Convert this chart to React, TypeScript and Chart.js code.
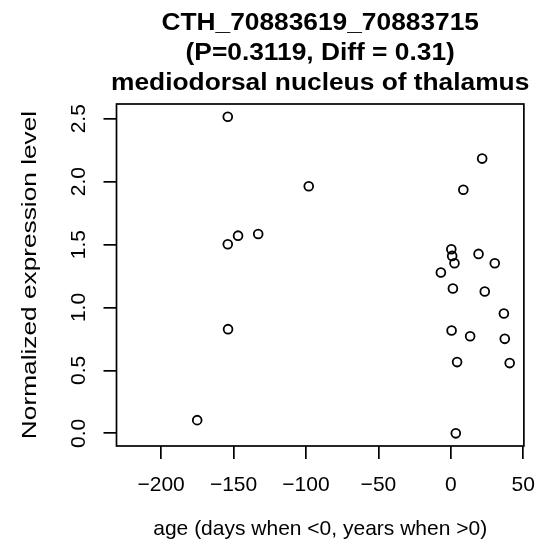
import React, { useEffect, useRef } from "react";
import { Chart, registerables } from "chart.js";

Chart.register(...registerables);

const titleLines = [
  "CTH_70883619_70883715",
  "(P=0.3119, Diff = 0.31)",
  "mediodorsal nucleus of thalamus",
];
const xLabel = "age (days when <0, years when >0)";
const yLabel = "Normalized expression level";

const ages = [
  -175.1, -154, -153.8, -154, -146.9, -133, -98.1, -6.9, 0.3, 0.5, 0.9, 1.4,
  2.5, 3.4, 4.3, 8.6, 13.3, 19.1, 21.6, 23.4, 30.3, 36.6, 37.2, 40.6,
];
const levels = [
  0.105, 2.516, 0.828, 1.502, 1.571, 1.584, 1.963, 1.278, 1.463, 0.817, 1.41,
  1.151, 1.352, 0.0, 0.566, 1.936, 0.772, 1.426, 2.183, 1.127, 1.352, 0.952,
  0.751, 0.558,
];
const xTicks = [-200, -150, -100, -50, 0, 50];
const yTicks = [0, 0.5, 1.0, 1.5, 2.0, 2.5];
const xRange = [-230.8, 50.4];
const yRange = [-0.1006, 2.617];

const FONT = "'Liberation Sans', Arial, Helvetica, sans-serif";

const fmt = (v: number, digits: number) =>
  v.toFixed(digits).replace("-", "\u2212");

const decorPlugin = {
  id: "rDecor",
  afterDraw(chart: any) {
    const { ctx, chartArea } = chart;
    ctx.save();
    // box around plot region
    ctx.strokeStyle = "#000";
    ctx.lineWidth = 1.7;
    ctx.strokeRect(
      chartArea.left,
      chartArea.top,
      chartArea.right - chartArea.left,
      chartArea.bottom - chartArea.top
    );
    ctx.fillStyle = "#000";
    const cx = (chartArea.left + chartArea.right) / 2;
    const cy = (chartArea.top + chartArea.bottom) / 2;

    // main title (3 lines)
    ctx.font = `bold 23.5px ${FONT}`;
    ctx.textAlign = "center";
    ctx.textBaseline = "alphabetic";
    const baselines = [30, 60, 90];
    titleLines.forEach((t, i) => {
      ctx.save();
      ctx.translate(cx, baselines[i]);
      ctx.scale(1.12, 1);
      ctx.fillText(t, 0, 0);
      ctx.restore();
    });

    // y axis label
    ctx.save();
    ctx.font = `21px ${FONT}`;
    ctx.textAlign = "center";
    ctx.textBaseline = "middle";
    ctx.translate(30, cy);
    ctx.rotate(-Math.PI / 2);
    ctx.scale(1.25, 1);
    ctx.fillText(yLabel, 0, 0);
    ctx.restore();

    ctx.restore();
  },
};

export default function App() {
  const ref = useRef<HTMLCanvasElement | null>(null);
  useEffect(() => {
    if (!ref.current) return;
    const chart = new Chart(ref.current, {
      type: "scatter",
      data: {
        datasets: [
          {
            data: ages.map((a, i) => ({ x: a, y: levels[i] })),
            pointStyle: "circle",
            pointRadius: 4.4,
            pointBorderWidth: 1.8,
            pointBorderColor: "#000",
            pointBackgroundColor: "rgba(0,0,0,0)",
          },
        ],
      },
      options: {
        animation: false,
        responsive: false,
        devicePixelRatio: 1,
        layout: { padding: { top: 104, right: 14.5, bottom: 0, left: 0 } },
        plugins: {
          legend: { display: false },
          tooltip: { enabled: false },
        },
        scales: {
          x: {
            type: "linear",
            min: xRange[0],
            max: xRange[1],
            afterBuildTicks: (s: any) => {
              s.ticks = xTicks.map((v) => ({ value: v }));
            },
            afterFit: (s: any) => {
              s.height = 107;
            },
            border: { display: false },
            grid: {
              display: true,
              drawOnChartArea: false,
              drawTicks: true,
              tickLength: 13,
              color: "#000",
              lineWidth: 1.7,
            },
            ticks: {
              color: "#000",
              font: { family: FONT, size: 21 },
              padding: 14,
              maxRotation: 0,
              minRotation: 0,
              callback: (v: any) => fmt(Number(v), 0),
            },
            title: {
              display: true,
              text: xLabel,
              color: "#000",
              font: { family: FONT, size: 21 },
              padding: { top: 0, bottom: 11 },
            },
          },
          y: {
            type: "linear",
            min: yRange[0],
            max: yRange[1],
            afterBuildTicks: (s: any) => {
              s.ticks = yTicks.map((v) => ({ value: v }));
            },
            afterFit: (s: any) => {
              s.width = 116.5;
            },
            border: { display: false },
            grid: {
              display: true,
              drawOnChartArea: false,
              drawTicks: true,
              tickLength: 13,
              color: "#000",
              lineWidth: 1.7,
            },
            ticks: {
              color: "#000",
              font: { family: FONT, size: 21 },
              padding: 10,
              minRotation: 90,
              maxRotation: 90,
              crossAlign: "center",
              callback: (v: any) => fmt(Number(v), 1),
            },
            title: { display: false },
          },
        },
      },
      plugins: [decorPlugin],
    } as any);
    return () => chart.destroy();
  }, []);
  return (
    <div style={{ position: "fixed", left: 0, top: 0, width: 549, height: 553, background: "#fff" }}>
      <canvas ref={ref} width={549} height={553} style={{ width: 549, height: 553, display: "block" }} />
    </div>
  );
}
